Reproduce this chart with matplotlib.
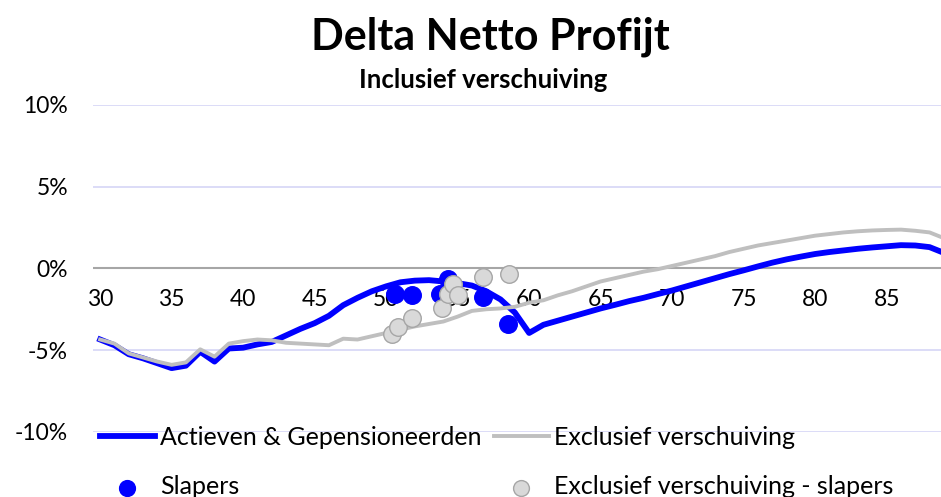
import matplotlib
matplotlib.use("Agg")
import matplotlib.pyplot as plt
import numpy as np

plt.rcParams['font.family'] = ['Lato', 'DejaVu Sans']

ages = list(range(30, 90))
actieven = [-4.35, -4.7, -5.25, -5.5, -5.8, -6.1, -5.95, -5.1, -5.7, -4.9,
            -4.85, -4.65, -4.5, -4.1, -3.7, -3.35, -2.9, -2.25, -1.8, -1.4,
            -1.1, -0.85, -0.75, -0.72, -0.8, -0.9, -1.05, -1.4, -1.9, -2.7,
            -3.95, -3.45, -3.2, -2.95, -2.7, -2.45, -2.23, -2.0, -1.8, -1.57,
            -1.35, -1.1, -0.85, -0.6, -0.35, -0.12, 0.12, 0.35, 0.55, 0.72,
            0.88, 1.0, 1.1, 1.2, 1.28, 1.35, 1.42, 1.4, 1.3, 0.95]
exclusief = [-4.35, -4.6, -5.2, -5.45, -5.7, -5.9, -5.75, -4.95, -5.4, -4.6,
             -4.45, -4.35, -4.4, -4.55, -4.6, -4.65, -4.7, -4.3, -4.35, -4.15,
             -3.95, -3.75, -3.55, -3.4, -3.25, -2.95, -2.6, -2.5, -2.45, -2.35,
             -2.1, -1.95, -1.65, -1.4, -1.1, -0.8, -0.6, -0.4, -0.2, -0.05,
             0.15, 0.35, 0.55, 0.75, 1.0, 1.2, 1.4, 1.55, 1.7, 1.85,
             2.0, 2.1, 2.2, 2.27, 2.32, 2.35, 2.37, 2.3, 2.2, 1.85]

slapers_age = [50.6, 51.8, 53.8, 54.3, 56.8, 58.5]
slapers_val = [-1.55, -1.65, -1.55, -0.65, -1.75, -3.4]

excl_slapers_age = [50.4, 50.8, 51.8, 53.9, 54.3, 54.7, 55.0, 56.8, 58.6]
excl_slapers_val = [-4.0, -3.6, -3.05, -2.4, -1.55, -0.95, -1.65, -0.55, -0.35]

x_ticks = [30, 35, 40, 45, 50, 55, 60, 65, 70, 75, 80, 85]
y_ticks = [-10, -5, 0, 5, 10]

fig = plt.figure(figsize=(9.41, 4.97), dpi=100)
ax = fig.add_axes([0.0988, 0.131, 0.9012, 0.658])

for yv in y_ticks:
    if yv != 0:
        ax.axhline(yv, color='#D9D9F7', lw=1.3, zorder=1)
ax.axhline(0, color='#A6A6A6', lw=1.5, zorder=1)

l1, = ax.plot(ages, actieven, color='#0000FF', lw=4.2, zorder=3,
              solid_joinstyle='round', label='Actieven & Gepensioneerden')
l2, = ax.plot(ages, exclusief, color='#BFBFBF', lw=2.8, zorder=4,
              solid_joinstyle='round', label='Exclusief verschuiving')
s1 = ax.scatter(slapers_age, slapers_val, s=160, color='#0000FF', zorder=5,
                label='Slapers')
s2 = ax.scatter(excl_slapers_age, excl_slapers_val, s=160, facecolor='#D9D9D9',
                edgecolor='#A6A6A6', linewidth=1.0, zorder=6,
                label='Exclusief verschuiving - slapers')

ax.set_xlim(29.5, 88.8)
ax.set_ylim(-10, 10)
ax.set_xticks(x_ticks)
ax.set_xticklabels([str(v) for v in x_ticks])
ax.set_yticks(y_ticks)
ax.set_yticklabels([f"{v}%" for v in y_ticks])
for sp in ax.spines.values():
    sp.set_visible(False)
ax.spines['bottom'].set_position(('data', 0))
ax.tick_params(axis='x', length=0, pad=15, labelsize=16.5, labelcolor='black')
ax.tick_params(axis='y', length=0, pad=18, labelsize=16.5, labelcolor='black')
ax.patch.set_alpha(0)

fig.text(0.521, 0.927, 'Delta Netto Profijt', ha='center', va='center',
         fontsize=31, fontweight='bold')
fig.text(0.514, 0.84, 'Inclusief verschuiving', ha='center', va='center',
         fontsize=18.5, fontweight='bold')

leg = fig.legend(handles=[l1, s1, l2, s2], ncol=2, loc='upper left',
                 bbox_to_anchor=(0.106, 0.143), frameon=False, fontsize=18,
                 handlelength=2.2, handletextpad=0.2, columnspacing=0.5,
                 labelspacing=1.05, borderaxespad=0, borderpad=0,
                 markerscale=0.9)

fig.savefig('out.png', dpi=100)
